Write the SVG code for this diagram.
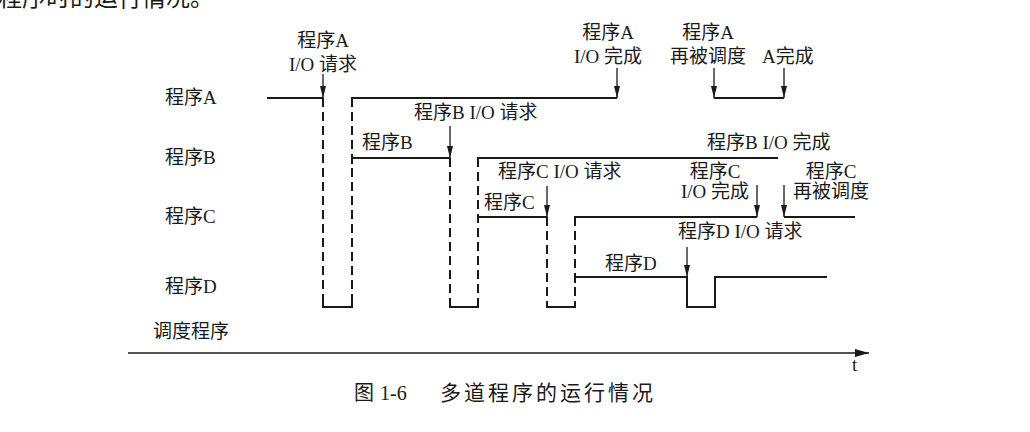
<svg xmlns="http://www.w3.org/2000/svg" width="1030" height="432" viewBox="0 0 1030 432">
<style>
text{font-family:"Liberation Serif","Noto Sans CJK SC",serif;font-size:19px;fill:#1a1a1a}
.c{text-anchor:middle}
.s{fill:none;stroke:#1a1a1a;stroke-width:2}
.d{fill:none;stroke:#1a1a1a;stroke-width:2;stroke-dasharray:9 5}
.a{fill:none;stroke:#1a1a1a;stroke-width:1.3;marker-end:url(#ah)}
</style>
<defs>
<marker id="ah" markerWidth="12" markerHeight="6" refX="12" refY="3" orient="auto" markerUnits="userSpaceOnUse"><path d="M0,0 L12,3 L0,6 Z" fill="#1a1a1a"/></marker>
<marker id="ax" markerWidth="14" markerHeight="8" refX="14" refY="4" orient="auto" markerUnits="userSpaceOnUse"><path d="M0,0 L14,4 L0,8 Z" fill="#1a1a1a"/></marker>
</defs>
<rect width="1030" height="432" fill="#fff"/>
<text x="-2" y="6" style="font-size:24px">程序时的运行情况。</text>

<g id="labels">
<text x="165" y="104">程序A</text>
<text x="165" y="164">程序B</text>
<text x="165" y="223">程序C</text>
<text x="165" y="293">程序D</text>
<text x="153" y="338">调度程序</text>
</g>

<g id="progA">
<path class="s" d="M267,98 H323"/>
<path class="s" d="M352,104 V98 H617"/>
<path class="s" d="M714,98 H784"/>
</g>
<g id="progB">
<path class="s" d="M352,164 V158 H450"/>
<path class="s" d="M478,164 V158 H778"/>
</g>
<g id="progC">
<path class="s" d="M478,223 V217 H547"/>
<path class="s" d="M575,223 V217 H757"/>
<path class="s" d="M784,217 H855"/>
</g>
<g id="progD">
<path class="s" d="M575,283 V277 H687 V307 H715 V277 H827"/>
</g>
<g id="scheduler">
<path class="d" d="M323,98 V307"/>
<path class="d" d="M352,98 V307"/>
<path class="s" d="M323,301 V307 H352 V301"/>
<path class="d" d="M450,158 V307"/>
<path class="d" d="M478,158 V307"/>
<path class="s" d="M450,301 V307 H478 V301"/>
<path class="d" d="M547,217 V307"/>
<path class="d" d="M575,217 V307"/>
<path class="s" d="M547,301 V307 H575 V301"/>
</g>

<g id="connectors">
<line class="a" x1="323" y1="74" x2="323" y2="98"/>
<line class="a" x1="450" y1="126" x2="450" y2="158"/>
<line class="a" x1="547" y1="186" x2="547" y2="217"/>
<line class="a" x1="617" y1="68" x2="617" y2="98"/>
<line class="a" x1="714" y1="68" x2="714" y2="98"/>
<line class="a" x1="784" y1="68" x2="784" y2="98"/>
<line class="a" x1="757" y1="185" x2="757" y2="217"/>
<line class="a" x1="784" y1="185" x2="784" y2="217"/>
<line class="a" x1="687" y1="247" x2="687" y2="277"/>
<line x1="128" y1="353" x2="869" y2="353" stroke="#1a1a1a" stroke-width="1.6" marker-end="url(#ax)"/>
</g>

<g id="annotations">
<text class="c" x="323" y="47">程序A</text>
<text class="c" x="323" y="71">I/O 请求</text>
<text x="414" y="119">程序B I/O 请求</text>
<text x="362" y="149">程序B</text>
<text x="498" y="178">程序C I/O 请求</text>
<text x="484" y="209">程序C</text>
<text x="605" y="270">程序D</text>
<text x="678" y="238">程序D I/O 请求</text>
<text class="c" x="715" y="178">程序C</text>
<text class="c" x="715" y="198">I/O 完成</text>
<text class="c" x="831" y="178">程序C</text>
<text class="c" x="831" y="198">再被调度</text>
<text x="707" y="149">程序B I/O 完成</text>
<text class="c" x="608" y="39">程序A</text>
<text class="c" x="608" y="63">I/O 完成</text>
<text class="c" x="708" y="39">程序A</text>
<text class="c" x="708" y="63">再被调度</text>
<text x="762" y="63">A完成</text>
<text x="852" y="371">t</text>
</g>

<g id="caption">
<text x="354" y="400" style="font-size:20px">图</text>
<text x="380" y="400" style="font-size:20px">1-6</text>
<text x="440" y="400" style="font-size:21px;letter-spacing:3px">多道程序的运行情况</text>
</g>
</svg>
